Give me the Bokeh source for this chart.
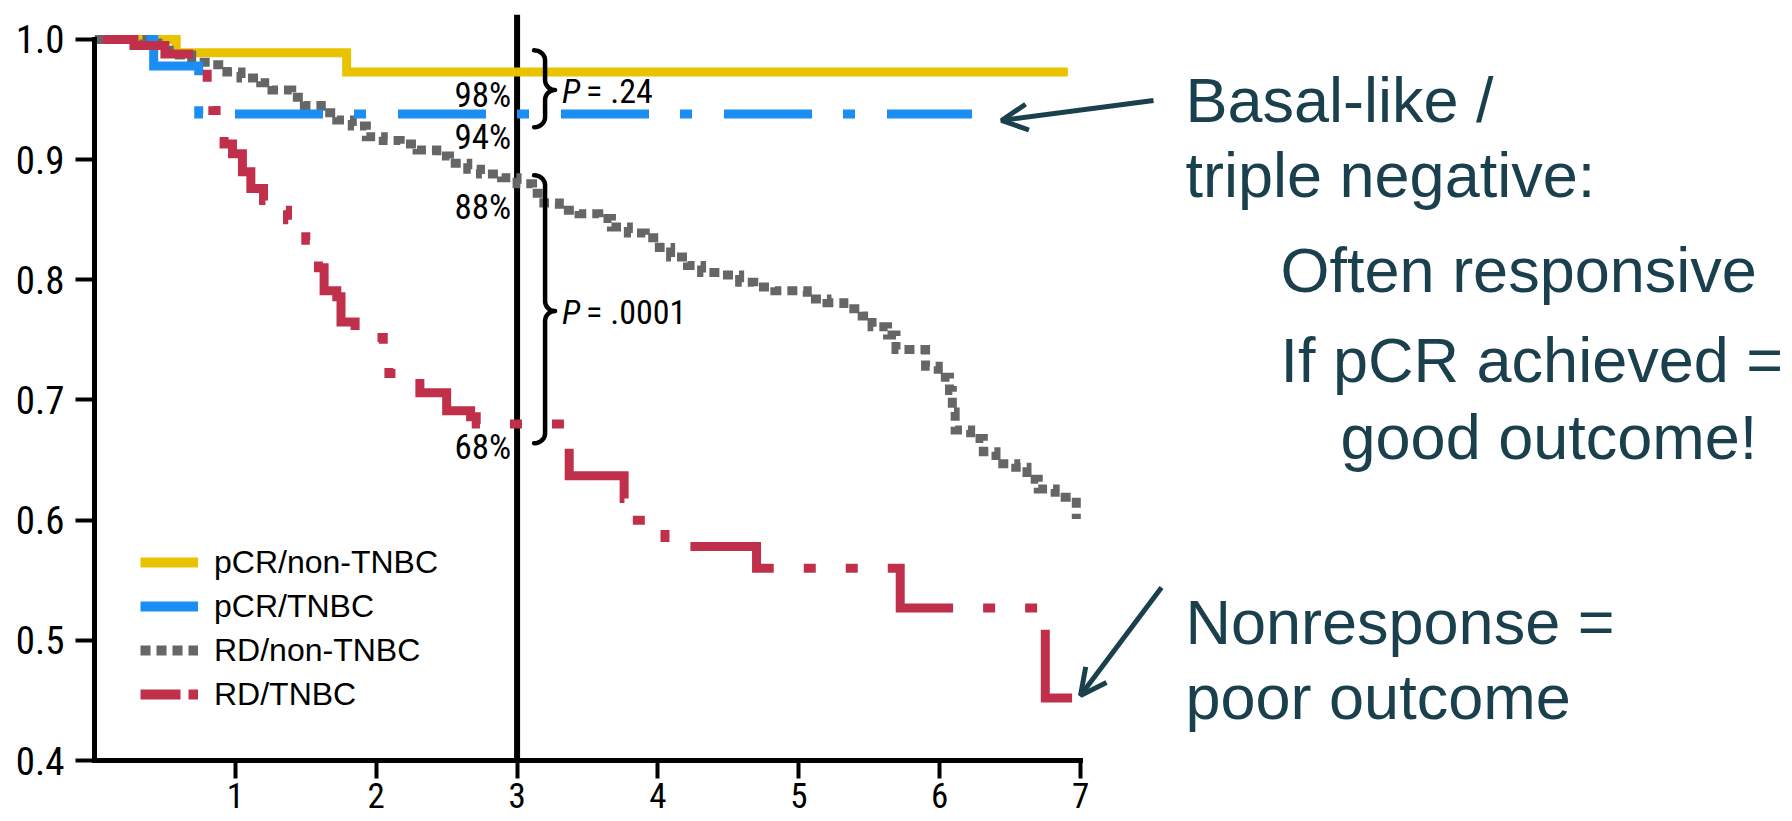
import numpy as np
from bokeh.plotting import figure
from bokeh.models import (Span, Arrow, OpenHead, Legend, LegendItem, FixedTicker, Range1d)
from bokeh.core.properties import value
from bokeh.embed import file_html
from bokeh.resources import INLINE

# ---------------- data ----------------
series_names = ["pCR/non-TNBC", "pCR/TNBC", "RD/non-TNBC", "RD/TNBC"]

pcr_non_tnbc_t = [0.0, 0.58, 1.79, 6.91]
pcr_non_tnbc_s = [1.0, 0.989, 0.973, 0.973]

pcr_tnbc_t = [0.0, 0.42, 0.74, 6.23]
pcr_tnbc_s = [1.0, 0.978, 0.938, 0.938]

rd_non_tnbc_t = [0.0, 0.35, 0.45, 0.57, 0.69, 0.83, 0.94, 1.04, 1.18, 1.26, 1.40, 1.49,
                 1.61, 1.72, 1.83, 1.93, 2.05, 2.17, 2.29, 2.43, 2.52, 2.65, 2.74, 2.89,
                 3.00, 3.11, 3.19, 3.30, 3.44, 3.58, 3.67, 3.79, 3.91, 4.01, 4.09, 4.21,
                 4.31, 4.46, 4.58, 4.68, 4.83, 5.06, 5.20, 5.32, 5.45, 5.52, 5.63, 5.69,
                 5.90, 5.99, 6.07, 6.09, 6.11, 6.22, 6.31, 6.40, 6.54, 6.62, 6.70, 6.82,
                 6.97]
rd_non_tnbc_s = [1.0, 0.997, 0.991, 0.987, 0.981, 0.979, 0.973, 0.968, 0.964, 0.958, 0.952, 0.945,
                 0.939, 0.933, 0.928, 0.919, 0.916, 0.913, 0.908, 0.903, 0.897, 0.892, 0.888, 0.885,
                 0.880, 0.872, 0.864, 0.858, 0.855, 0.851, 0.844, 0.839, 0.835, 0.827, 0.819, 0.812,
                 0.806, 0.804, 0.798, 0.794, 0.791, 0.784, 0.781, 0.776, 0.770, 0.761, 0.754, 0.742,
                 0.728, 0.719, 0.708, 0.690, 0.675, 0.668, 0.657, 0.647, 0.644, 0.634, 0.626, 0.619,
                 0.601]

rd_tnbc_t = [0.0, 0.28, 0.50, 0.76, 0.80, 0.84, 0.91, 0.92, 0.98, 1.05, 1.11, 1.20, 1.32,
             1.37, 1.45, 1.50, 1.56, 1.59, 1.63, 1.72, 1.75, 1.85, 2.05, 2.09, 2.31, 2.50,
             2.67, 2.71, 3.37, 3.76, 3.82, 4.05, 4.70, 5.72, 6.75, 6.94]
rd_tnbc_s = [1.0, 0.995, 0.988, 0.977, 0.960, 0.941, 0.935, 0.913, 0.905, 0.890, 0.876, 0.866, 0.858,
             0.850, 0.840, 0.833, 0.825, 0.810, 0.791, 0.786, 0.765, 0.752, 0.736, 0.722, 0.706, 0.691,
             0.686, 0.680, 0.637, 0.618, 0.600, 0.578, 0.560, 0.527, 0.452, 0.452]

x_ticks = [1, 2, 3, 4, 5, 6, 7]
x_tick_labels = ["1", "2", "3", "4", "5", "6", "7"]
y_ticks = [0.4, 0.5, 0.6, 0.7, 0.8, 0.9, 1.0]
y_tick_labels = ["0.4", "0.5", "0.6", "0.7", "0.8", "0.9", "1.0"]

landmark_year = 3
landmark_labels = ["98%", "94%", "88%", "68%"]
p_value_labels = ["= .24", "= .0001"]
# brace spans (top, bottom, tip) in survival units
brace_spans = [(0.991, 0.927, 0.958), (0.887, 0.664, 0.774)]

notes = ["Basal-like /", "triple negative:", "Often responsive",
         "If pCR achieved =", "good outcome!", "Nonresponse =", "poor outcome"]

# ---------------- style ----------------
YELLOW = "#E9C300"
BLUE = "#1C8EF2"
GRAY = "#666666"
RED = "#C0304B"
TEAL = "#1A404D"
NARROW_NAME = "Roboto Condensed, Liberation Sans"
SANS_NAME = "Liberation Sans"
NARROW = value(NARROW_NAME)
SANS = value(SANS_NAME)

W, H = 1792, 821
LEFT, TOP, BOTTOM = 94, 14, 61
FRAME_W = W - LEFT
FRAME_H = H - TOP - BOTTOM
X_END = FRAME_W / 140.86
Y_END = 1.0208
SX = X_END / FRAME_W          # data per px (x)
SY = (Y_END - 0.4) / FRAME_H  # data per px (y)
BASE_FIX = 0.38               # baseline correction, in em

p = figure(width=W, height=H, output_backend="svg", toolbar_location=None,
           x_range=Range1d(0, X_END), y_range=Range1d(0.4, Y_END),
           min_border_left=LEFT, min_border_right=0, min_border_top=TOP,
           min_border_bottom=BOTTOM,
           background_fill_color="white", border_fill_color="white")
p.outline_line_color = None
p.xgrid.visible = False
p.ygrid.visible = False

# axes
for ax in (p.xaxis[0], p.yaxis[0]):
    ax.axis_line_width = 5
    ax.axis_line_color = "black"
    ax.axis_line_cap = "square"
    ax.major_tick_line_width = 4
    ax.major_tick_line_color = "black"
    ax.major_tick_in = 0
    ax.minor_tick_line_color = None
    ax.major_label_text_font = NARROW_NAME
    ax.major_label_text_color = "black"

p.yaxis.bounds = (0.4, 1.0)
p.yaxis.ticker = FixedTicker(ticks=y_ticks)
p.yaxis.major_label_overrides = {t: l for t, l in zip(y_ticks, y_tick_labels)}
p.yaxis.major_tick_out = 19
p.yaxis.major_label_standoff = 11
p.yaxis.major_label_text_font_size = "39px"

p.xaxis.bounds = (0, 7)
p.xaxis.ticker = FixedTicker(ticks=x_ticks)
p.xaxis.major_label_overrides = {t: l for t, l in zip(x_ticks, x_tick_labels)}
p.xaxis.major_tick_out = 18
p.xaxis.major_label_text_font_size = "35px"
p.xaxis.major_label_standoff = 4

# landmark line
p.add_layout(Span(location=landmark_year, dimension="height", line_color="black",
                  line_width=6, level="underlay"))

# curves
common = dict(mode="after", line_width=9, line_join="miter", line_cap="butt")
p.step(pcr_non_tnbc_t, pcr_non_tnbc_s, line_color=YELLOW, **common)
p.step(rd_non_tnbc_t, rd_non_tnbc_s, line_color=GRAY, line_dash="10 6", **common)
p.step(pcr_tnbc_t, pcr_tnbc_s, line_color=BLUE, line_dash="88 31 12 32",
       line_dash_offset=111, **common)
p.step(rd_tnbc_t, rd_tnbc_s, line_color=RED, line_dash="105 30 12 30 12 30",
       line_dash_offset=211, **common)

# legend with its own sample styles (renderers carry no visible data)
leg_styles = [dict(line_color=YELLOW), dict(line_color=BLUE),
              dict(line_color=GRAY, line_dash="10 6"),
              dict(line_color=RED, line_dash="40 8 10 8")]
items = []
for name, st in zip(series_names, leg_styles):
    r = p.line([np.nan, np.nan], [np.nan, np.nan], line_width=10, line_cap="butt", **st)
    items.append(LegendItem(label=name, renderers=[r]))
legend = Legend(items=items, location=(46, 44), padding=0, margin=0, spacing=0,
                glyph_width=58, glyph_height=44, label_standoff=16,
                label_text_font=SANS_NAME, label_text_font_size="32px", label_text_color="black",
                border_line_alpha=0, background_fill_alpha=0)
p.add_layout(legend)

# landmark percentages (right aligned just left of the line)
def surv_at(t_list, s_list, t):
    idx = np.searchsorted(np.array(t_list), t, side="right") - 1
    return s_list[idx]

s3 = [surv_at(pcr_non_tnbc_t, pcr_non_tnbc_s, landmark_year),
      surv_at(pcr_tnbc_t, pcr_tnbc_s, landmark_year),
      surv_at(rd_non_tnbc_t, rd_non_tnbc_s, landmark_year),
      surv_at(rd_tnbc_t, rd_tnbc_s, landmark_year)]
PCT_SIZE = 35
p.text(x=[landmark_year - 6 * SX] * 4,
       y=[s - 0.031 + BASE_FIX * PCT_SIZE * SY for s in s3], text=landmark_labels,
       text_align="right", text_baseline="alphabetic", text_font=NARROW,
       text_font_size=f"{PCT_SIZE}px", text_color="black")

# braces with p-values
def brace(x0, y_top, y_bot, y_tip):
    stem = x0 + 11 * SX
    tip = x0 + 21 * SX
    r = 10 * SY
    u = np.linspace(0, np.pi / 2, 14)
    xs = list(x0 + (stem - x0) * np.sin(u)); ys = list(y_top - r + r * np.cos(u))
    xs += list(tip - (tip - stem) * np.cos(u)); ys += list(y_tip + r - r * np.sin(u))
    u2 = u[::-1]
    xs += list(tip - (tip - stem) * np.cos(u2)); ys += list(y_tip - r + r * np.sin(u2))
    xs += list(x0 + (stem - x0) * np.cos(u)); ys += list(y_bot + r - r * np.sin(u))
    return xs, ys

P_SIZE = 34
brace_x0 = landmark_year + 17 * SX
for (yt, yb, ytip), lab in zip(brace_spans, p_value_labels):
    bx, by = brace(brace_x0, yt, yb, ytip)
    p.line(bx, by, line_color="black", line_width=4.5, line_cap="round", line_join="round")
    ty = ytip - 14 * SY + BASE_FIX * P_SIZE * SY
    p.text(x=[brace_x0 + 28 * SX], y=[ty], text=["P"], text_font=NARROW,
           text_font_style="italic", text_font_size=f"{P_SIZE}px", text_baseline="alphabetic",
           text_color="black")
    p.text(x=[brace_x0 + 52 * SX], y=[ty], text=[lab], text_font=NARROW,
           text_font_size=f"{P_SIZE}px", text_baseline="alphabetic", text_color="black")

# right-hand notes
NOTE_SIZE = 63
note_x = [7.745, 7.745, 8.420, 8.420, 8.846, 7.745, 7.745]
note_y = [0.9301, 0.8677, 0.7886, 0.7137, 0.6497, 0.4957, 0.4333]
p.text(x=note_x, y=[y + BASE_FIX * NOTE_SIZE * SY for y in note_y], text=notes,
       text_font=SANS, text_font_size=f"{NOTE_SIZE}px",
       text_baseline="alphabetic", text_align="left", text_color=TEAL)

# arrows
p.add_layout(Arrow(end=OpenHead(size=26, line_width=5, line_color=TEAL),
                   x_start=7.518, y_start=0.9492, x_end=6.439, y_end=0.9326,
                   line_width=5, line_color=TEAL))
p.add_layout(Arrow(end=OpenHead(size=26, line_width=5, line_color=TEAL),
                   x_start=7.575, y_start=0.5440, x_end=7.0, y_end=0.4541,
                   line_width=5, line_color=TEAL))

open("out.html", "w").write(file_html(p, INLINE))
